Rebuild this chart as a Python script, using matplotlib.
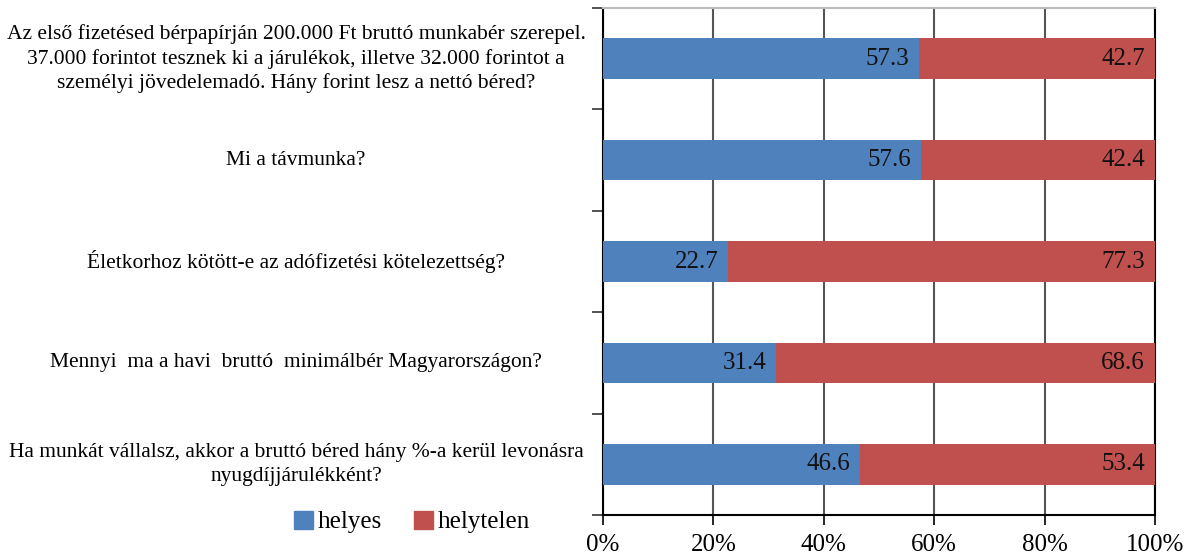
import matplotlib.pyplot as plt
from matplotlib.patches import Patch
from matplotlib.transforms import blended_transform_factory

questions = [
    "Az első fizetésed bérpapírján 200.000 Ft bruttó munkabér szerepel.\n"
    "37.000 forintot tesznek ki a járulékok, illetve 32.000 forintot a\n"
    "személyi jövedelemadó. Hány forint lesz a nettó béred?",
    "Mi a távmunka?",
    "Életkorhoz kötött-e az adófizetési kötelezettség?",
    "Mennyi  ma a havi  bruttó  minimálbér Magyarországon?",
    "Ha munkát vállalsz, akkor a bruttó béred hány %-a kerül levonásra\n"
    "nyugdíjjárulékként?",
]
helyes = [57.3, 57.6, 22.7, 31.4, 46.6]
helytelen = [42.7, 42.4, 77.3, 68.6, 53.4]
x_ticks = [0, 20, 40, 60, 80, 100]
x_tick_labels = ["0%", "20%", "40%", "60%", "80%", "100%"]

blue = "#4F81BD"
red = "#C0504D"
plt.rcParams["font.family"] = ["Liberation Serif", "DejaVu Serif"]

fig = plt.figure(figsize=(11.93, 5.56), dpi=100)
ax = fig.add_axes([603 / 1193, 1 - 515 / 556, 552 / 1193, 507 / 556])

ypos = list(range(len(questions)))
ax.barh(ypos, helyes, height=0.4, color=blue, zorder=3)
ax.barh(ypos, helytelen, left=helyes, height=0.4, color=red, zorder=3)

for y, a, b in zip(ypos, helyes, helytelen):
    ax.text(a - 1.8, y, f"{a:.1f}", ha="right", va="center", fontsize=18, color="#111111", zorder=4)
    ax.text(a + b - 1.8, y, f"{b:.1f}", ha="right", va="center", fontsize=18, color="#111111", zorder=4)

ax.set_xlim(0, 100)
ax.set_ylim(len(questions) - 0.5, -0.5)
ax.set_xticks(x_ticks)
ax.set_xticklabels(x_tick_labels, fontsize=18)
ax.tick_params(axis="x", direction="out", length=7, width=1.2, pad=7, color="black")
ax.grid(axis="x", color="#555555", linewidth=1.5, zorder=0)

# category labels, centred block left of the axis
ax.set_yticks([])
ax.set_yticks([i - 0.5 for i in range(len(questions) + 1)], minor=True)
ax.tick_params(axis="y", which="minor", length=8, width=1.2, color="#333333")
trans = blended_transform_factory(ax.transAxes, ax.transData)
for y, q in zip(ypos, questions):
    ax.text(-0.556, y, q, ha="center", va="center", multialignment="center",
            fontsize=15.5, transform=trans, linespacing=1.32)

for side in ["left", "bottom"]:
    ax.spines[side].set_color("black")
    ax.spines[side].set_linewidth(1.5)
ax.spines["top"].set_color("#bbbbbb")
ax.spines["top"].set_linewidth(1.5)
ax.spines["right"].set_color("black")
ax.spines["right"].set_linewidth(1.5)

handles = [Patch(color=blue, label="helyes"), Patch(color=red, label="helytelen")]
fig.legend(handles=handles, loc="center", bbox_to_anchor=(412 / 1193, 1 - 522 / 556),
           ncol=2, frameon=False, fontsize=18, handlelength=0.75, handleheight=0.75,
           handletextpad=0.2, columnspacing=1.3, borderpad=0.1)

fig.savefig("out.png", dpi=100)
